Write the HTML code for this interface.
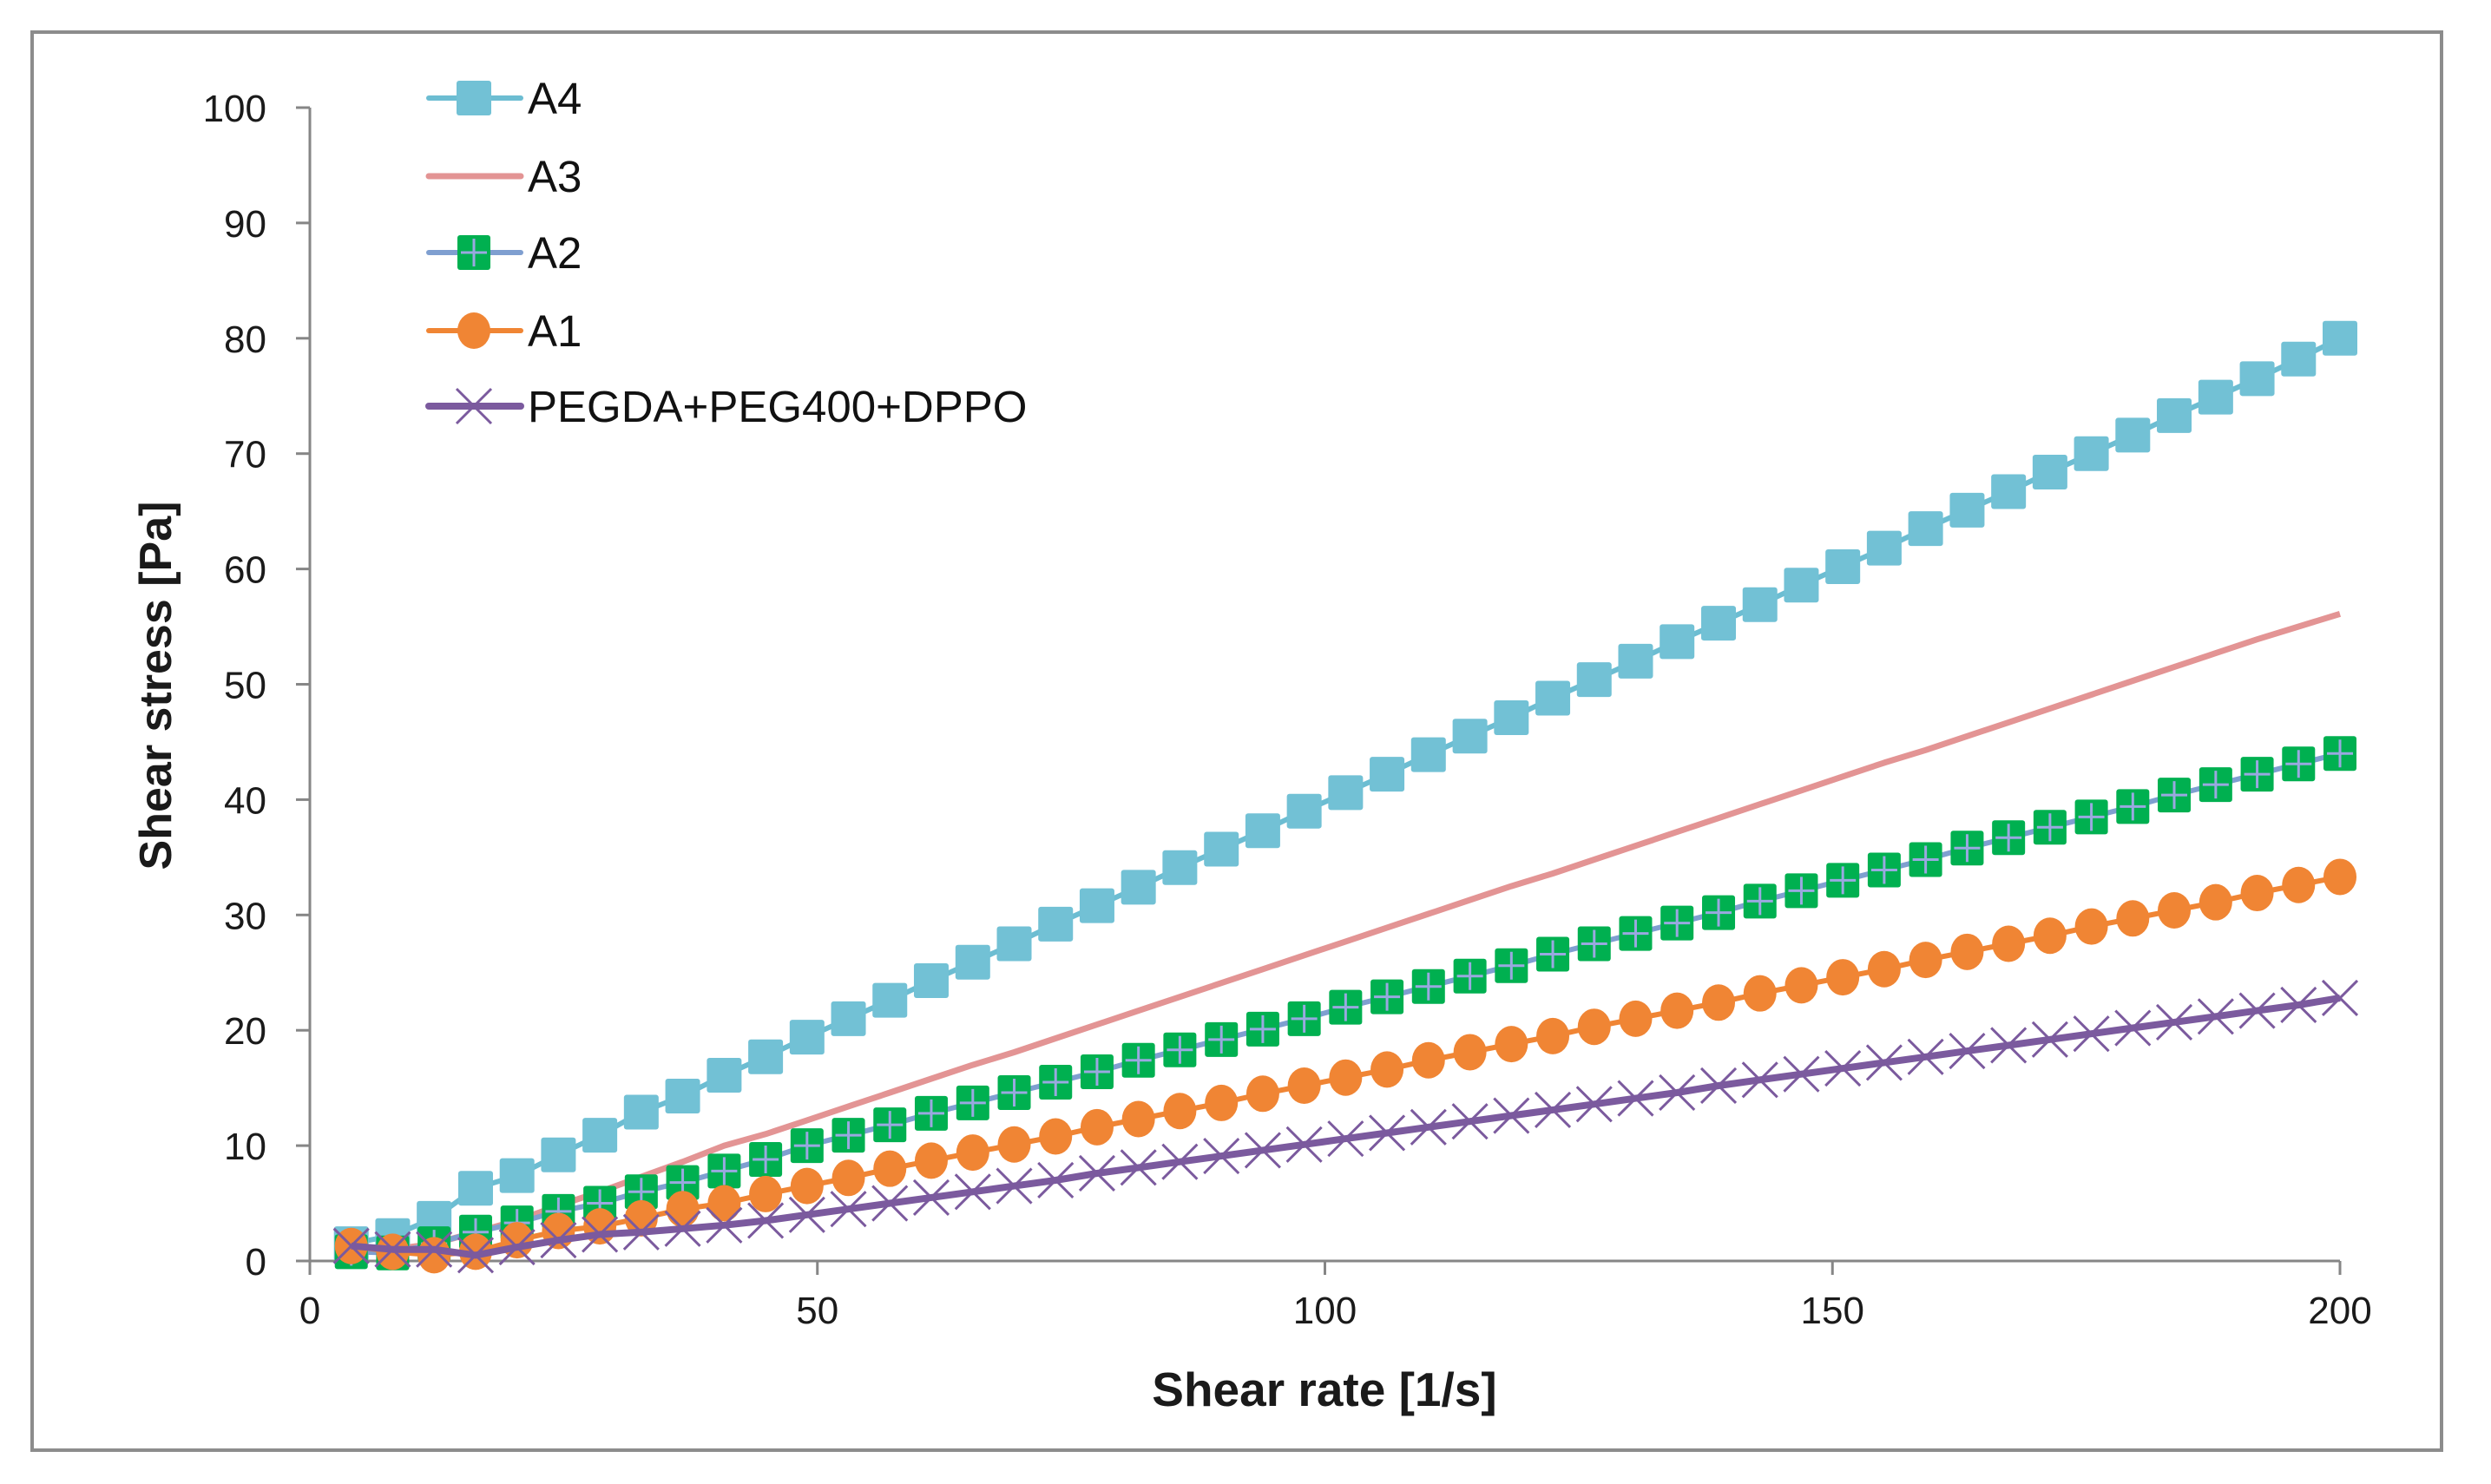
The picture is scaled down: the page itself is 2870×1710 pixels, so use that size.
<!DOCTYPE html>
<html><head><meta charset="utf-8">
<style>
html,body{margin:0;padding:0;background:#fff;}
svg{display:block;font-family:"Liberation Sans",sans-serif;}
</style></head>
<body>
<svg id="chart" width="2870" height="1710" viewBox="0 0 2870 1710" xmlns="http://www.w3.org/2000/svg">
<rect x="37" y="37" width="2776" height="1634" fill="#fff" stroke="#8c8c8c" stroke-width="4"/>
<g id="axes"></g>
<g id="series"></g>
<text x="1526" y="1620" text-anchor="middle" font-size="55" font-weight="bold" fill="#1a1a1a">Shear rate [1/s]</text>
<text transform="translate(197,790) rotate(-90)" text-anchor="middle" font-size="52" font-weight="bold" fill="#1a1a1a">Shear stress  [Pa]</text>
<g id="legend"></g>
</svg>
<script>
const xTicks = [0, 50, 100, 150, 200];
const yTicks = [0, 10, 20, 30, 40, 50, 60, 70, 80, 90, 100];
const seriesNames = ["A4", "A3", "A2", "A1", "PEGDA+PEG400+DPPO"];
const shearRate = [4.08,8.16,12.24,16.33,20.41,24.49,28.57,32.65,36.73,40.82,44.9,48.98,53.06,57.14,61.22,65.31,69.39,73.47,77.55,81.63,85.71,89.8,93.88,97.96,102.04,106.12,110.2,114.29,118.37,122.45,126.53,130.61,134.69,138.78,142.86,146.94,151.02,155.1,159.18,163.27,167.35,171.43,175.51,179.59,183.67,187.76,191.84,195.92,200];
const a4 = [1.5,2.2,3.7,6.3,7.4,9.2,10.9,12.9,14.3,16.1,17.7,19.4,21.0,22.6,24.3,25.9,27.5,29.2,30.8,32.4,34.1,35.7,37.3,39.0,40.6,42.2,43.9,45.5,47.1,48.8,50.4,52.0,53.7,55.3,56.9,58.6,60.2,61.8,63.5,65.1,66.7,68.4,70.0,71.6,73.3,74.9,76.5,78.2,80.0];
const a3 = [1.0,1.0,1.5,2.5,3.5,4.8,6.0,7.3,8.6,10.0,11.0,12.2,13.4,14.6,15.8,17.0,18.1,19.3,20.5,21.7,22.9,24.1,25.3,26.5,27.7,28.9,30.1,31.3,32.5,33.6,34.8,36.0,37.2,38.4,39.6,40.8,42.0,43.2,44.3,45.5,46.7,47.9,49.1,50.3,51.5,52.7,53.9,55.0,56.1];
const a2 = [0.8,0.7,1.5,2.5,3.3,4.3,5.0,6.0,6.8,7.8,8.8,10.0,10.9,11.8,12.8,13.7,14.6,15.5,16.4,17.4,18.3,19.2,20.1,21.0,22.0,22.9,23.8,24.7,25.6,26.6,27.5,28.4,29.3,30.2,31.2,32.1,33.0,33.9,34.8,35.8,36.7,37.6,38.5,39.4,40.4,41.3,42.2,43.1,44.0];
const a1 = [1.3,0.8,0.5,0.8,1.8,2.6,3.0,3.7,4.5,5.0,5.8,6.5,7.2,8.0,8.7,9.4,10.1,10.8,11.6,12.3,13.0,13.7,14.5,15.2,15.9,16.6,17.4,18.1,18.8,19.5,20.3,21.0,21.7,22.4,23.2,23.9,24.6,25.3,26.1,26.8,27.5,28.2,29.0,29.7,30.4,31.1,31.9,32.6,33.3];
const pegda = [1.3,1.0,1.0,0.5,1.2,1.8,2.3,2.5,2.8,3.1,3.5,4.0,4.5,5.0,5.5,6.0,6.5,7.0,7.6,8.1,8.6,9.1,9.6,10.1,10.6,11.1,11.6,12.1,12.6,13.1,13.6,14.1,14.6,15.2,15.7,16.2,16.7,17.2,17.7,18.2,18.7,19.2,19.7,20.2,20.7,21.2,21.7,22.2,22.8];

const NS = "http://www.w3.org/2000/svg";
const X0 = 357, X1 = 2696, Y0 = 1453, Y1 = 124;
function sx(v){ return X0 + (v - 0) / 200 * (X1 - X0); }
function sy(v){ return Y0 - (v - 0) / 100 * (Y0 - Y1); }
function mk(tag, attrs, parent){
  const e = document.createElementNS(NS, tag);
  for (const k in attrs) e.setAttribute(k, attrs[k]);
  parent.appendChild(e);
  return e;
}
const axes = document.getElementById("axes");
const ax = mk("line", {x1:X0, y1:Y1, x2:X0, y2:Y0, stroke:"#868686", "stroke-width":3}, axes);


const bx = mk("line", {x1:X0, y1:Y0, x2:X1, y2:Y0, stroke:"#868686", "stroke-width":3}, axes);


yTicks.forEach(t => {
  const y = sy(t);
  const tk = mk("line", {x1:X0-16, y1:y, x2:X0, y2:y, stroke:"#868686", "stroke-width":3}, axes);
  
  
  const lb = mk("text", {x:X0-50, y:y+16, "text-anchor":"end", "font-size":44, fill:"#1a1a1a"}, axes);
  lb.textContent = t;
  
  
});
xTicks.forEach(t => {
  const x = sx(t);
  const tk = mk("line", {x1:x, y1:Y0, x2:x, y2:Y0+16, stroke:"#868686", "stroke-width":3}, axes);
  
  
  const lb = mk("text", {x:x, y:Y0+72, "text-anchor":"middle", "font-size":44, fill:"#1a1a1a"}, axes);
  lb.textContent = t;
  
  
});

function marker(type, cx, cy, g){
  let e;
  if (type === "sq4") {
    e = mk("rect", {x:cx-20, y:cy-20, width:40, height:40, rx:3, fill:"#72c1d5"}, g);
  } else if (type === "sq2") {
    e = mk("g", {}, g);
    mk("rect", {x:cx-19, y:cy-20, width:38, height:40, rx:3, fill:"#00b050"}, e);
    mk("path", {d:`M${cx-15} ${cy}H${cx+15}M${cx} ${cy-16}V${cy+16}`, stroke:"#9aa8e0", "stroke-width":3}, e);
  } else if (type === "circ") {
    e = mk("ellipse", {cx:cx, cy:cy, rx:19, ry:21, fill:"#f08534"}, g);
  } else if (type === "x") {
    e = mk("path", {d:`M${cx-20} ${cy-20}L${cx+20} ${cy+20}M${cx+20} ${cy-20}L${cx-20} ${cy+20}`, stroke:"#7b5a9e", "stroke-width":3}, g);
  }
  return e;
}
const defs = [
  {name:"A4", vals:a4, line:"#6cbdd2", w:6, m:"sq4"},
  {name:"A3", vals:a3, line:"#e39494", w:7, m:null},
  {name:"A2", vals:a2, line:"#7f9fd0", w:6, m:"sq2"},
  {name:"A1", vals:a1, line:"#f08534", w:6, m:"circ"},
  {name:"PEGDA+PEG400+DPPO", vals:pegda, line:"#7b5a9e", w:8, m:"x"}
];
const sg = document.getElementById("series");
const order = [1,0,2,3,4];
order.forEach(i => {
  const s = defs[i];
  const g = mk("g", {}, sg);
  
  
  const pts = s.vals.map((v,j) => sx(shearRate[j]).toFixed(1) + "," + sy(v).toFixed(1)).join(" ");
  const pl = mk("polyline", {points:pts, fill:"none", stroke:s.line, "stroke-width":s.w, "stroke-linejoin":"round"}, g);
  
  
  if (s.m) {
    s.vals.forEach((v,j) => {
      const e = marker(s.m, sx(shearRate[j]), sy(v), g);
      
      
    });
  }
});
const lg = document.getElementById("legend");


const legY = [113, 203, 291, 381, 468];
defs.forEach((s,i) => {
  const g = mk("g", {}, lg);
  
  
  const y = legY[i];
  mk("line", {x1:494, y1:y, x2:600, y2:y, stroke:s.line, "stroke-width":s.w, "stroke-linecap":"round"}, g);
  if (s.m) marker(s.m, 546, y, g);
  const t = mk("text", {x:608, y:y+18, "font-size":51, fill:"#111"}, g);
  t.textContent = s.name;
  
  
});
</script>
</body></html>
